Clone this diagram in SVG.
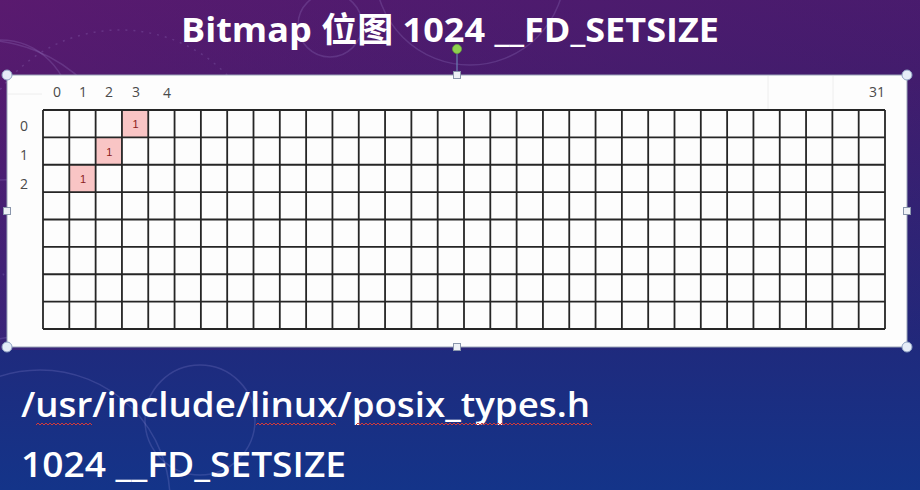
<svg xmlns="http://www.w3.org/2000/svg" width="920" height="490" viewBox="0 0 920 490">
  <defs>
    <linearGradient id="bg" x1="0" y1="0" x2="0" y2="1">
      <stop offset="0" stop-color="#511a6d"/>
      <stop offset="0.16" stop-color="#481b6c"/>
      <stop offset="0.7" stop-color="#1f2a7d"/>
      <stop offset="1" stop-color="#143489"/>
    </linearGradient>
    <linearGradient id="tint" x1="0" y1="0" x2="1" y2="0">
      <stop offset="0" stop-color="#6a1a72" stop-opacity="0.35"/>
      <stop offset="1" stop-color="#2a2070" stop-opacity="0.2"/>
    </linearGradient>
    <!-- spell-check wavy underline -->
    <pattern id="wave" patternUnits="userSpaceOnUse" x="0" y="422" width="4" height="4">
      <path d="M0 3 L2 1 L4 3" fill="none" stroke="#d23a3a" stroke-width="1"/>
    </pattern>
    <style>
      .deco { fill: none; stroke: #c8b8ff; stroke-opacity: 0.16; stroke-width: 1.5; }
      .title { font-family: "Open Sans", "Noto Sans CJK SC", sans-serif; font-weight: 700; font-size: 34px; fill: #ffffff; }
      .body { font-family: "Open Sans", "Noto Sans CJK SC", sans-serif; font-weight: 600; font-size: 35px; fill: #ffffff; }
      .lbl { font-family: "Open Sans", "Liberation Sans", sans-serif; font-size: 14px; fill: #4a4a4a; text-anchor: middle; }
      .bit { font-family: "Liberation Sans", sans-serif; font-size: 11px; fill: #8a2020; text-anchor: middle; }
      .cellOn { fill: #f9c5c5; }
      .grid { fill: none; stroke: #262626; stroke-width: 1.8; }
      .corner { fill: #e6edf8; stroke: #8fa3c4; stroke-width: 1; }
      .side { fill: #eef1f6; stroke: #8a96ac; stroke-width: 1; }
      .squiggle { fill: url(#wave); }
    </style>
  </defs>

  <!-- backdrop -->
  <rect width="920" height="490" fill="url(#bg)"/>
  <rect width="920" height="350" fill="url(#tint)"/>
  <g id="decoration">
    <circle class="deco" cx="-20" cy="190" r="150"/>
    <circle class="deco" cx="0" cy="110" r="70"/>
    <circle class="deco" cx="120" cy="180" r="150" stroke-dasharray="2 6"/>
    <circle class="deco" cx="330" cy="25" r="32"/>
    <circle class="deco" cx="470" cy="-30" r="95"/>
    <circle class="deco" cx="200" cy="420" r="55"/>
    <circle class="deco" cx="40" cy="500" r="130"/>
  </g>

  <!-- heading -->
  <text id="title" class="title" x="181" y="42" textLength="538" lengthAdjust="spacingAndGlyphs">Bitmap 位图 1024 __FD_SETSIZE</text>

  <!-- bitmap table on its white panel -->
  <g id="panel">
    <rect x="7" y="75" width="900" height="272" fill="#fdfdfd" stroke="#9aa4b8" stroke-width="1"/>
    <path d="M768 76 V109 M833 76 V109 M8 94 H42" stroke="#eeeeee" stroke-width="1" fill="none"/>
  </g>

  <g id="bits">
    <rect class="cellOn" x="121.94" y="110" width="26.31" height="27.38"/>
    <rect class="cellOn" x="95.63" y="137.38" width="26.31" height="27.37"/>
    <rect class="cellOn" x="69.31" y="164.75" width="26.32" height="27.38"/>
    <text class="bit" x="135.6" y="128">1</text>
    <text class="bit" x="109.3" y="156">1</text>
    <text class="bit" x="83" y="183">1</text>
  </g>

  <g id="grid">
    <path class="grid" d="M43 110 V329 M69.31 110 V329 M95.63 110 V329 M121.94 110 V329 M148.25 110 V329 M174.56 110 V329 M200.88 110 V329 M227.19 110 V329 M253.5 110 V329 M279.81 110 V329 M306.13 110 V329 M332.44 110 V329 M358.75 110 V329 M385.06 110 V329 M411.38 110 V329 M437.69 110 V329 M464 110 V329 M490.31 110 V329 M516.63 110 V329 M542.94 110 V329 M569.25 110 V329 M595.56 110 V329 M621.88 110 V329 M648.19 110 V329 M674.5 110 V329 M700.81 110 V329 M727.13 110 V329 M753.44 110 V329 M779.75 110 V329 M806.06 110 V329 M832.38 110 V329 M858.69 110 V329 M885 110 V329 M43 110 H885 M43 137.38 H885 M43 164.75 H885 M43 192.13 H885 M43 219.5 H885 M43 246.88 H885 M43 274.25 H885 M43 301.63 H885 M43 329 H885"/>
  </g>

  <g id="column-labels">
    <text class="lbl" x="57" y="97">0</text>
    <text class="lbl" x="83" y="97">1</text>
    <text class="lbl" x="109" y="97">2</text>
    <text class="lbl" x="136" y="97">3</text>
    <text class="lbl" x="167" y="98">4</text>
    <text class="lbl" x="877" y="97">31</text>
  </g>
  <g id="row-labels">
    <text class="lbl" x="24" y="131">0</text>
    <text class="lbl" x="24" y="160">1</text>
    <text class="lbl" x="24" y="189">2</text>
  </g>

  <!-- selection handles -->
  <g id="handles">
    <line x1="457" y1="53" x2="457" y2="72" stroke="#6b7db3" stroke-width="1.2"/>
    <circle cx="457" cy="49" r="4.5" fill="#8fd14f" stroke="#6aa83a" stroke-width="0.8"/>
    <rect class="side" x="453.5" y="71.5" width="7" height="7"/>
    <rect class="side" x="453.5" y="343.5" width="7" height="7"/>
    <rect class="side" x="3.5" y="207.5" width="7" height="7"/>
    <rect class="side" x="903.5" y="207.5" width="7" height="7"/>
    <circle class="corner" cx="7" cy="75" r="5"/>
    <circle class="corner" cx="907" cy="75" r="5"/>
    <circle class="corner" cx="7" cy="347" r="5"/>
    <circle class="corner" cx="907" cy="347" r="5"/>
  </g>

  <!-- notes below -->
  <g id="notes">
    <text class="body" x="21" y="417" textLength="569" lengthAdjust="spacingAndGlyphs">/usr/include/linux/posix_types.h</text>
    <text class="body" x="21" y="477" textLength="325" lengthAdjust="spacingAndGlyphs">1024 __FD_SETSIZE</text>
    <rect class="squiggle" x="36" y="422" width="56" height="4"/>
    <rect class="squiggle" x="256" y="422" width="80" height="4"/>
    <rect class="squiggle" x="356" y="422" width="236" height="4"/>
  </g>
</svg>
